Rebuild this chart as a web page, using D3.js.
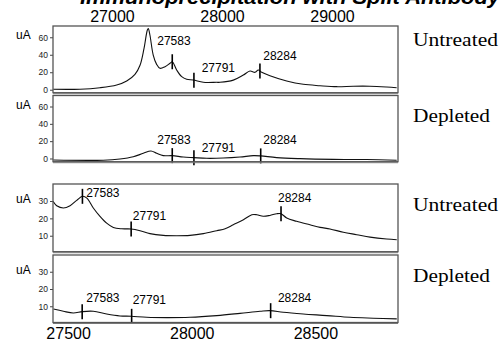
<!DOCTYPE html>
<html>
<head>
<meta charset="utf-8">
<script src="https://cdn.jsdelivr.net/npm/d3@7"></script>
<style>
  body { margin: 0; background: #fff; }
  svg { display: block; }
  .tick text { font-family: "Liberation Sans", Arial, sans-serif; }
</style>
</head>
<body>
<div id="chart"></div>
<script>
// ---- data (mass in Da, signal in uA) ----
// upper pair, wide scan
var upperTicks = [27000, 28000, 29000];
var untreatedWideMass = [26466, 26709, 26891, 27043, 27134, 27209, 27255, 27291, 27321, 27330, 27345, 27375, 27406, 27436, 27482, 27527, 27548, 27588, 27634, 27679, 27739, 27830, 27952, 27982, 28103, 28194, 28255, 28300, 28330, 28361, 28436, 28588, 28739, 28891, 29043, 29194, 29345, 29497, 29588];
var untreatedWideSignal = [0.5, 0.6, 2.3, 5.4, 10, 17.6, 28, 47, 68, 70, 62.6, 39.7, 29, 24.5, 26.3, 30.2, 32, 22.6, 14.9, 11.9, 11.1, 8.5, 8.5, 8.5, 11, 16.8, 21.4, 19.9, 22.6, 20, 16, 10, 6.2, 4.6, 3.5, 4, 4, 3.1, 2.3];
var depletedWideMass = [26466, 26921, 27073, 27194, 27285, 27355, 27406, 27466, 27548, 27648, 27745, 27861, 28012, 28164, 28285, 28352, 28497, 28709, 29012, 29315, 29588];
var depletedWideSignal = [-1.8, -2, -0.6, 2, 6, 8.7, 6, 3.3, 3.3, 1.7, 1, 0.2, 0.5, 1.7, 3.3, 3, 1, -0.2, -1, -1.2, -2];

// lower pair, zoomed scan
var lowerTicks = [27500, 28000, 28500];
var untreatedZoomMass = [27439, 27454, 27481, 27508, 27535, 27558, 27576, 27602, 27629, 27656, 27683, 27717, 27755, 27791, 27831, 27885, 27939, 27993, 28047, 28101, 28135, 28168, 28209, 28243, 28263, 28289, 28316, 28344, 28361, 28384, 28424, 28478, 28519, 28559, 28613, 28667, 28721, 28788, 28829];
var untreatedZoomSignal = [29.8, 27.3, 26, 27.3, 30.4, 32.7, 31.7, 26, 21.2, 17.3, 14.8, 14, 13.9, 12.9, 11.2, 10.2, 10, 10.2, 11.2, 12.9, 14, 16.3, 19.2, 22.1, 22.1, 21.2, 21.7, 22.7, 22.7, 20.2, 18.3, 16.3, 14.8, 13.9, 12, 10.6, 9.2, 8.1, 7.7];
var depletedZoomMass = [27441, 27481, 27521, 27558, 27602, 27656, 27710, 27755, 27818, 27899, 27993, 28101, 28195, 28276, 28316, 28370, 28451, 28546, 28640, 28734, 28829];
var depletedZoomSignal = [8.4, 7.1, 6.1, 6.9, 7.1, 5.5, 4.4, 4.2, 3.6, 3.4, 3.6, 4.6, 5.9, 7.1, 7.5, 6.5, 5.5, 4.6, 3.6, 3.1, 2.7];

// annotated species: label and where the mark sits on each trace
var speciesLabels = ["27583", "27791", "28284"];
var untreatedWideMarks = [27548, 27745, 28345];
var depletedWideMarks = [27548, 27745, 28352];
var untreatedZoomMarks = [27558, 27755, 28361];
var depletedZoomMarks = [27557, 27757, 28319];

var conditions = ["Untreated", "Depleted", "Untreated", "Depleted"];

// ---- layout ----
var w = 503, h = 341;
var left = 53, right = 398;
var serif = '"Liberation Serif", "Times New Roman", serif';
var sans = '"Liberation Sans", Arial, sans-serif';

var panels = [
  {top: 26, bottom: 92.7, yDomain: [-3.4, 72.9], ticks: [0, 20, 40, 60], scan: "wide",
   mass: untreatedWideMass, signal: untreatedWideSignal, marks: untreatedWideMarks,
   labelOff: [[-15, -16.5], [7.7, -8.3], [3.3, -11]], sideY: 46},
  {top: 95.5, bottom: 161.7, yDomain: [-3.7, 72.7], ticks: [0, 20, 40, 60], scan: "wide",
   mass: depletedWideMass, signal: depletedWideSignal, marks: depletedWideMarks,
   labelOff: [[-15, -11.2], [7.7, -5.3], [2.6, -12.2]], sideY: 122.3},
  {top: 184, bottom: 251.7, yDomain: [0.8, 39.8], ticks: [10, 20, 30], scan: "zoom",
   mass: untreatedZoomMass, signal: untreatedZoomSignal, marks: untreatedZoomMarks,
   labelOff: [[3.7, 0.7], [1.7, -9.2], [-3, -11.8]], sideY: 211},
  {top: 255, bottom: 322.5, yDomain: [0.6, 39.7], ticks: [10, 20, 30], scan: "zoom",
   mass: depletedZoomMass, signal: depletedZoomSignal, marks: depletedZoomMarks,
   labelOff: [[4, -9.7], [1, -12], [7.3, -8.3]], sideY: 281.7}
];

var xWide = d3.scaleLinear().domain([26464, 29600]).range([left, right]);
var xZoom = d3.scaleLinear().domain([27439, 28834]).range([left, right]);

var svg = d3.select("#chart").append("svg")
    .attr("width", w)
    .attr("height", h);

// title, cut off by the crop just like the source figure
svg.append("text")
    .attr("x", 80)
    .attr("y", 4)
    .attr("textLength", 420)
    .attr("lengthAdjust", "spacingAndGlyphs")
    .style("font-family", sans)
    .style("font-size", "20px")
    .style("font-weight", "bold")
    .style("font-style", "italic")
    .text("Immunoprecipitation with Split Antibody");

// top axis for the wide scan
var axTop = svg.append("g")
    .attr("transform", "translate(0,22)")
    .call(d3.axisTop(xWide).tickValues(upperTicks).tickSize(0).tickPadding(0).tickFormat(d3.format("d")));
axTop.select(".domain").remove();
axTop.selectAll("text").style("font-size", "16px").attr("fill", "#000");

// bottom axis for the zoomed scan
var axBot = svg.append("g")
    .attr("transform", "translate(0,328)")
    .call(d3.axisBottom(xZoom).tickValues(lowerTicks).tickSize(0).tickPadding(0).tickFormat(d3.format("d")));
axBot.select(".domain").remove();
axBot.selectAll("text").style("font-size", "16px").attr("fill", "#000").attr("dy", "0.71em");

panels.forEach(function(p, i) {
    var x = p.scan == "wide" ? xWide : xZoom;
    var y = d3.scaleLinear().domain(p.yDomain).range([p.bottom, p.top]);
    var g = svg.append("g");

    var clipId = "clip" + i;
    g.append("clipPath").attr("id", clipId)
        .append("rect")
        .attr("x", left).attr("y", p.top)
        .attr("width", right - left).attr("height", p.bottom - p.top);

    // y axis
    var ay = g.append("g")
        .attr("transform", "translate(" + left + ",0)")
        .call(d3.axisLeft(y).tickValues(p.ticks).tickSize(3).tickPadding(2));
    ay.select(".domain").remove();
    ay.selectAll("line").attr("stroke", "#444");
    ay.selectAll("text").style("font-size", "8.5px").attr("fill", "#222");

    g.append("text")
        .attr("x", 16)
        .attr("y", y(p.ticks[p.ticks.length - 1]) + 2)
        .style("font-family", sans)
        .style("font-size", "12px")
        .text("uA");

    // trace
    var pts = p.mass.map(function(m, k) { return [m, p.signal[k]]; });
    var line = d3.line()
        .x(function(d) { return x(d[0]); })
        .y(function(d) { return y(d[1]); })
        .curve(d3.curveCatmullRom.alpha(0.5));
    g.append("path")
        .datum(pts)
        .attr("clip-path", "url(#" + clipId + ")")
        .attr("fill", "none")
        .attr("stroke", "#111")
        .attr("stroke-width", 1.1)
        .attr("d", line);

    // species marks sit on the trace
    var sig = d3.scaleLinear().domain(p.mass).range(p.signal);
    p.marks.forEach(function(m, k) {
        var cx = x(m), cy = y(sig(m));
        g.append("line")
            .attr("x1", cx).attr("x2", cx)
            .attr("y1", cy - 7.5).attr("y2", cy + 7.5)
            .attr("stroke", "#000")
            .attr("stroke-width", 1.6);
        g.append("text")
            .attr("x", cx + p.labelOff[k][0])
            .attr("y", cy + p.labelOff[k][1])
            .style("font-family", sans)
            .style("font-size", "12px")
            .text(speciesLabels[k]);
    });

    // frame
    g.append("rect")
        .attr("x", left).attr("y", p.top)
        .attr("width", right - left).attr("height", p.bottom - p.top)
        .attr("fill", "none")
        .attr("stroke", "#555")
        .attr("stroke-width", 1.3);
    g.append("line")
        .attr("x1", left).attr("x2", right)
        .attr("y1", p.bottom + 1).attr("y2", p.bottom + 1)
        .attr("stroke", "#777")
        .attr("stroke-width", 1);

    // condition label
    g.append("text")
        .attr("x", 413)
        .attr("y", p.sideY)
        .attr("textLength", conditions[i] == "Untreated" ? 85 : 77)
        .attr("lengthAdjust", "spacingAndGlyphs")
        .style("font-family", serif)
        .style("font-size", "18px")
        .text(conditions[i]);
});
</script>
</body>
</html>
